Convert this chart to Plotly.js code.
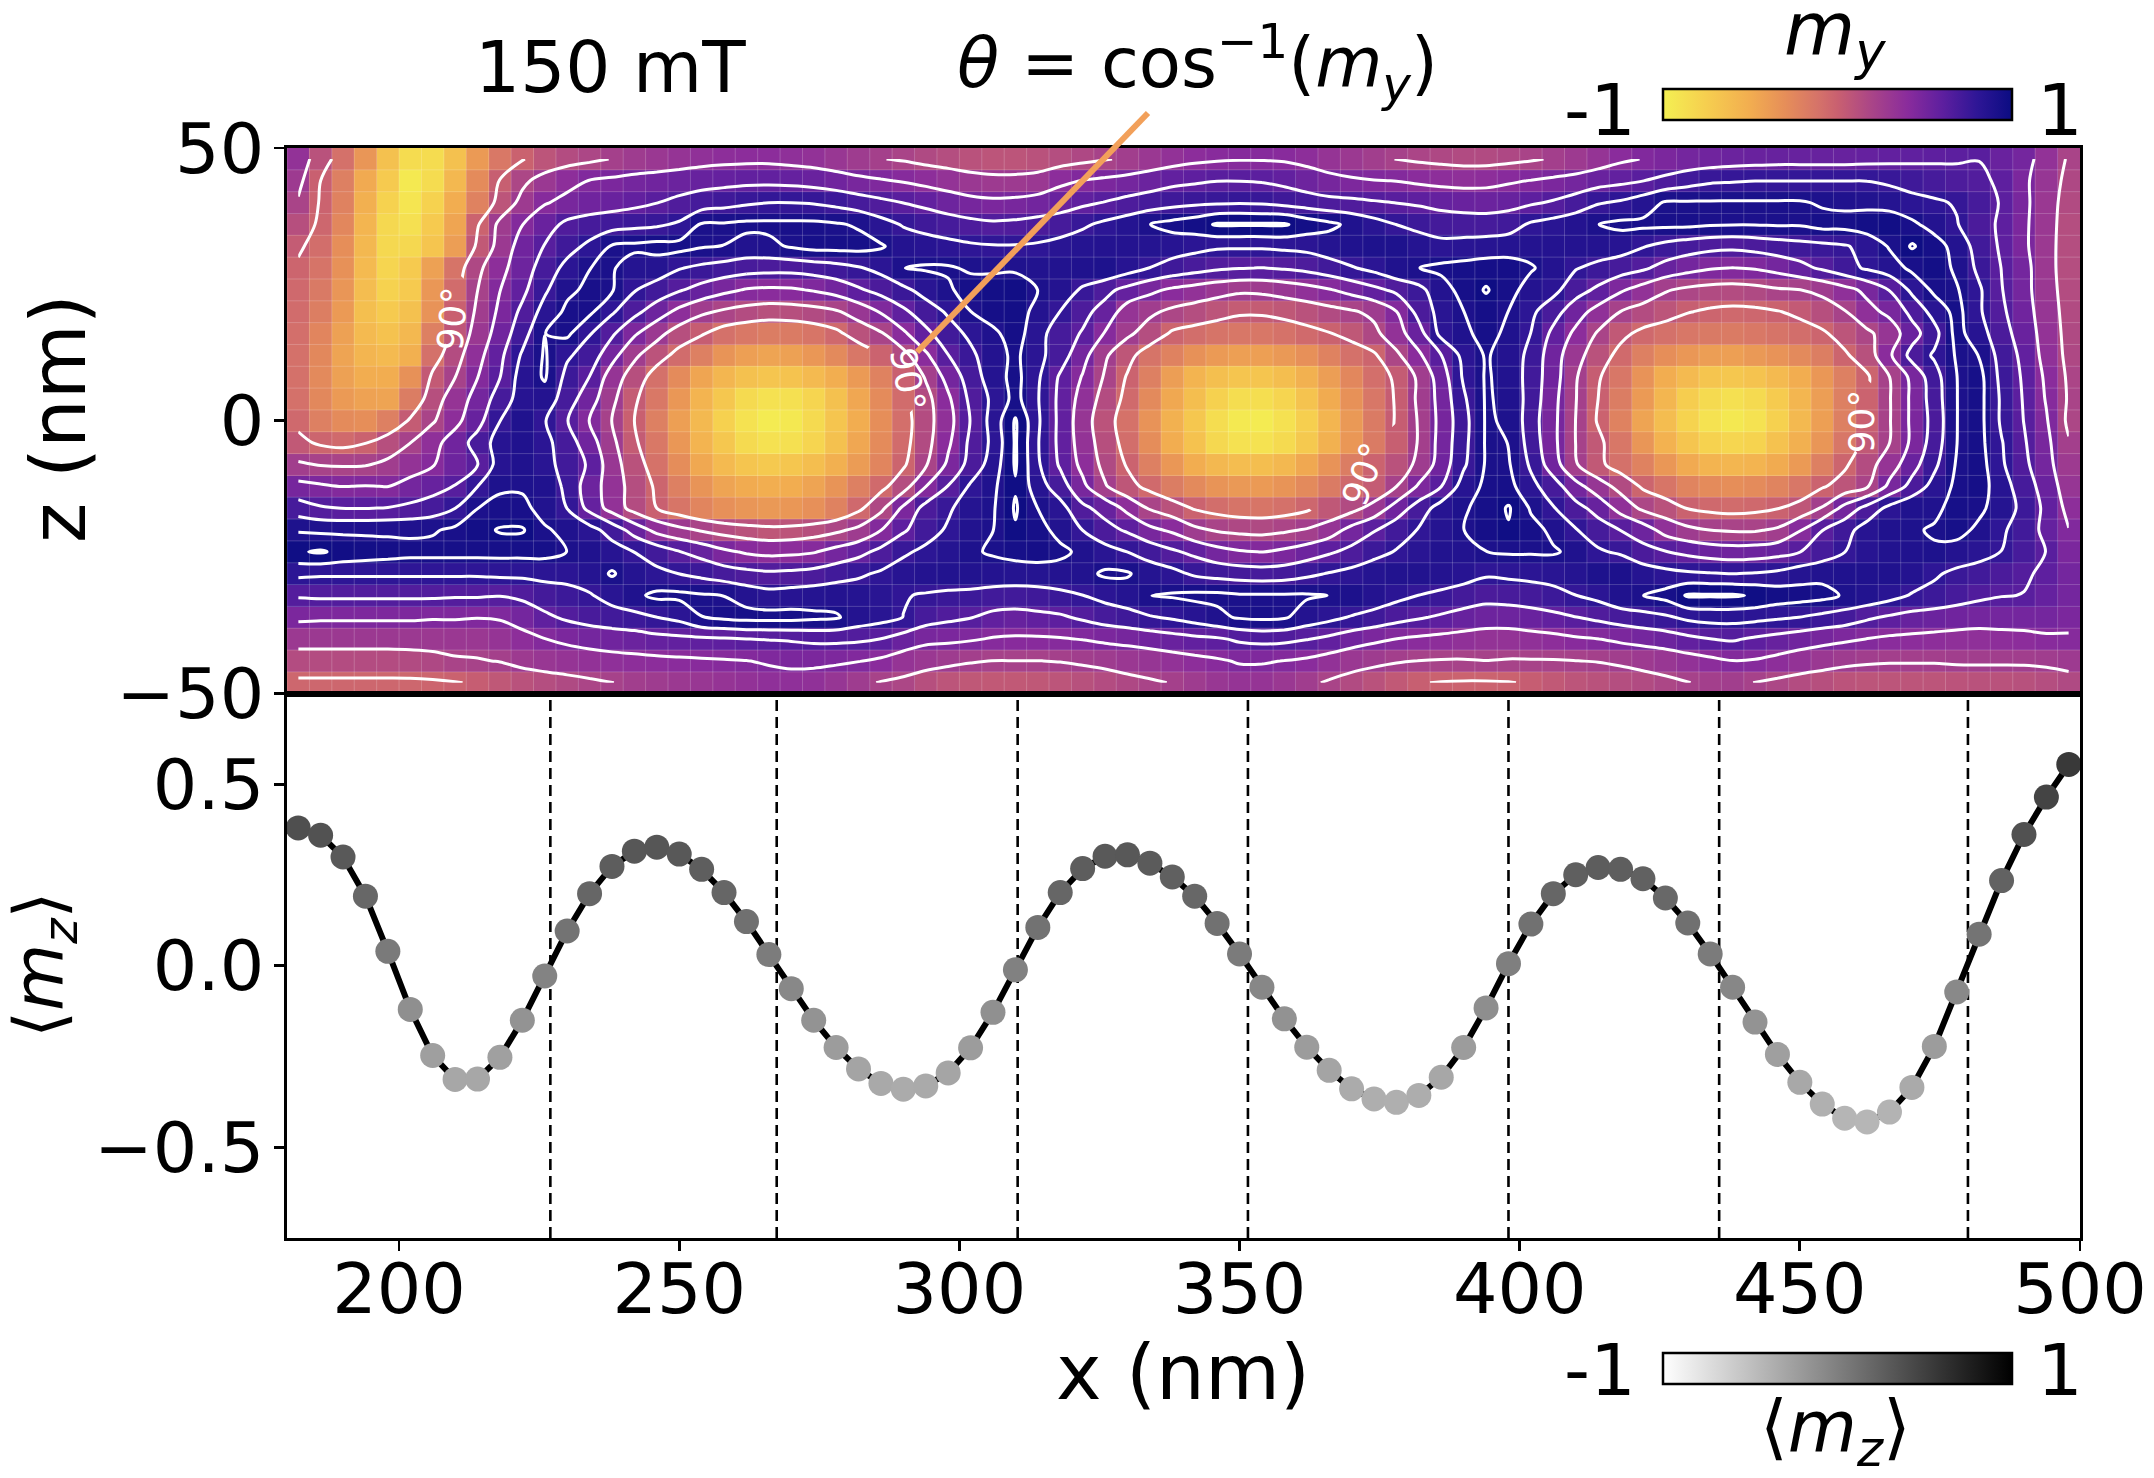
<!DOCTYPE html>
<html><head><meta charset="utf-8">
<script src="https://cdn.plot.ly/plotly-3.0.1.min.js"></script>
<style>html,body{margin:0;padding:0;background:#fff}</style></head>
<body><div id="chart" style="width:2154px;height:1478px"></div>
<script>
const xCells=[182,186,190,194,198,202,206,210,214,218,222,226,230,234,238,242,246,250,254,258,262,266,270,274,278,282,286,290,294,298,302,306,310,314,318,322,326,330,334,338,342,346,350,354,358,362,366,370,374,378,382,386,390,394,398,402,406,410,414,418,422,426,430,434,438,442,446,450,454,458,462,466,470,474,478,482,486,490,494,498];
const zCells=[48,44,40,36,32,28,24,20,16,12,8,4,0,-4,-8,-12,-16,-20,-24,-28,-32,-36,-40,-44,-48];
// m_y x 100 for each row of cells
const rowP48=[35,10,-10,-35,-65,-85,-85,-65,-38,-15,-1,8,14,18,23,27,30,33,36,38,39,39,37,35,31,27,23,20,16,13,10,8,8,10,13,17,21,25,30,35,39,41,42,42,41,38,33,29,25,22,19,17,15,15,17,20,24,28,33,40,44,47,50,52,54,55,56,56,56,56,57,58,59,60,61,62,55,50,35,20];
const rowP44=[28,0,-20,-48,-72,-95,-85,-58,-28,1,18,30,38,44,47,50,52,54,56,57,58,58,57,55,52,48,45,42,38,34,30,28,28,30,39,44,47,50,54,58,60,62,62,61,58,53,49,46,44,43,40,38,37,38,41,44,47,50,55,58,62,67,72,76,77,78,78,78,78,78,78,76,73,70,67,65,60,47,32,17];
const rowP40=[20,-2,-22,-52,-78,-92,-78,-50,-22,8,28,42,48,52,55,58,62,66,70,73,76,78,78,77,74,70,66,62,58,53,49,47,48,51,55,59,63,67,70,73,75,76,77,76,73,70,67,66,64,62,60,57,55,54,56,60,64,70,77,80,85,91,91,91,91,91,91,91,89,88,87,85,82,80,77,70,61,48,30,15];
const rowP36=[12,-4,-25,-56,-82,-88,-72,-45,-2,27,43,55,66,70,72,74,76,80,91,91,92,92,92,92,91,89,83,77,73,70,67,65,66,68,70,76,81,85,90,93,95,98,98,98,98,95,92,88,83,78,74,71,70,70,72,80,83,86,90,92,92,92,92,91,90.5,90.5,91,91,93,93,95,96,92,86,79,68,60,47,30,13];
const rowP32=[3,-8,-30,-58,-82,-82,-68,-40,5,29,52,63,73,81,91,92,93,93,91,90,87,88,91,93,93,93,91,86,84,82,80,79,79,80,83,85,86,86,85,84,82,80,80,80,81,82,85,88,89,89,85,82,83,84,85,86,86,86,86,84,79,74,70,67,66,68,71,73,75,77,82,91,98,94,86,72,60,47,29,13];
const rowP28=[-3,-12,-32,-60,-80,-72,-42,-12,17,38,53,70,82,90,91,85,85,79,75,72,69,68,68,70,73,77,82,90,91,91,89,88,88,87,87,88,89,84,78,73,69,65,63,62,64,67,72,77,82,88,90,92,93,94,94,91,86,79,74,70,65,56,50,45,43,45,50,57,65,73,80,85,92,95,88,75,62,50,29,13];
const rowP24=[-5,-16,-35,-62,-78,-72,-36,-7,22,43,58,76,88,92,91,79,72,64,56,48,42,40,41,45,51,60,68,75,83,89,93,95,96,90,86,76,67,57,48,40,35,30,26,27,31,36,42,50,58,66,74,86,93,98,93,86,82,69,59,46,35,24,18,15,14,16,20,22,27,37,48,63,81,92,91,80,63,50,30,14];
const rowP20=[-7,-19,-38,-64,-72,-65,-33,0,26,47,66,83,92,92,80,67,53,38,26,19,14,11,12,15,20,31,45,59,71,80,90,94,95,86,78,67,56,33,26,18,13,8,3,3,6,10,15,20,27,43,68,83,90,94,90,81,69,52,36,22,14,8,1,-3,-5,-4,-1,4,12,21,37,48,67,83,93,80,65,52,32,15];
const rowP16=[-9,-24,-42,-60,-66,-58,-20,7,30,52,72,90,92,79,65,46,29,12,2,-10,-15,-18,-17,-13,-5,10,20,40,58,72,81,88,94,83,70,61,42,26,13,-3,-8,-12,-14,-14,-11,-6,-1,6,17,35,55,82,88,93,88,78,58,39,20,5,-5,-10,-14,-16,-17,-15,-12,-8,-3,8,18,32,55,73,93,84,68,55,34,16];
const rowP12=[-10,-26,-44,-56,-60,-52,-10,14,37,58,80,91,80,72,50,26,9,-7,-20,-34,-41,-44,-42,-36,-27,-14,-2,15,40,62,75,86,92,82,70,50,25,7,-12,-22,-32,-38,-41,-41,-37,-31,-22,-10,-3,18,40,62,82,91,86,74,52,30,10,-6,-20,-30,-36,-40,-41,-37,-33,-27,-19,-3,11,40,68,80,91,90,72,58,36,17];
const rowP8=[-10,-27,-42,-50,-50,-32,4,22,43,62,84,91,74,62,33,12,-10,-28,-45,-57,-65,-68,-67,-60,-51,-38,-22,0,24,50,70,85,93,80,60,42,20,-2,-20,-40,-55,-64,-68,-68,-63,-53,-40,-25,-9,3,26,53,80,91,87,72,52,24,2,-14,-33,-50,-60,-68,-70,-67,-60,-50,-36,-20,-3,22,48,72,90,93,74,60,40,19];
const rowP4=[-10,-26,-38,-43,-44,-18,12,33,50,70,84,86,70,52,27,3,-15,-36,-55,-70,-84,-89,-88,-80,-65,-46,-28,-7,15,40,66,81,93,79,58,36,14,-6,-27,-47,-63,-77,-86,-87,-80,-67,-49,-32,-14,2,26,50,76,91,88,72,49,23,0,-18,-38,-57,-74,-84,-88,-84,-73,-57,-40,-20,-2,21,47,70,90,93,76,61,42,20];
const rowP0=[-5,-20,-28,-30,-20,3,20,38,56,78,88,79,63,43,22,0,-20,-41,-59,-77,-90,-96,-94,-84,-68,-50,-30,-9,14,36,63,83,98,80,58,32,9,-11,-33,-53,-70,-86,-95,-96,-89,-76,-56,-37,-17,2,24,49,73,91,89,70,48,22,-2,-22,-44,-62,-79,-90,-94,-90,-77,-59,-41,-20,0,21,47,68,90,93,76,62,45,18];
const rowM4=[5,-3,-6,-1,12,22,37,52,69,84,88,82,70,52,27,3,-15,-36,-55,-70,-84,-89,-88,-80,-65,-46,-28,-7,15,40,66,81,98,79,58,34,12,-8,-29,-50,-66,-82,-89,-90,-84,-71,-53,-36,-17,1,24,50,74,91,90,72,48,22,5,-14,-35,-54,-68,-78,-81,-79,-66,-52,-35,-14,5,22,47,70,90,93,79,64,48,24];
const rowM8=[25,21,20,21,26,34,42,53,62,84,88,83,72,60,31,10,-11,-29,-47,-60,-68,-71,-69,-63,-52,-39,-24,-3,20,47,68,84,98,80,60,38,16,-2,-20,-36,-50,-58,-62,-63,-58,-47,-33,-18,-2,10,27,52,76,91,91,76,52,24,5,-10,-22,-36,-48,-55,-57,-55,-49,-38,-20,-3,14,33,55,75,91,94,80,66,50,28];
const rowM12=[49,46,43,44,43,50,56,63,78,89,89,88,74,53,34,13,-3,-20,-34,-44,-49,-51,-50,-44,-34,-20,-6,13,43,63,80,88,97,84,70,48,24,7,-6,-18,-27,-34,-37,-38,-34,-27,-17,-5,3,22,46,62,84,92,93,82,70,50,32,15,-3,-13,-23,-28,-30,-28,-23,-14,-2,8,20,48,68,83,92,94,84,70,55,32];
const rowM16=[70,64,62,62,63,66,70,78,90,92,92,87,78,57,35,14,0,-13,-24,-31,-35,-37,-36,-31,-22,-5,17,47,68,76,85,89,98,90,83,66,56,38,20,10,-2,-8,-12,-13,-10,-4,6,15,30,52,70,84,89,93,98,89,79,68,56,36,18,10,-1,-5,-7,-5,-1,7,24,50,68,82,88,88,93,92,85,74,58,38];
const rowM20=[89,88,88,88,88,88,89,92,95,98,98,91,88,83,72,55,37,28,20,14,10,7,8,12,18,27,43,60,72,80,87,90,97,93,87,78,68,60,48,40,27,20,17,16,19,24,33,50,61,72,79,85,90,94,97,93,88,79,70,62,53,36,27,22,20,20,25,42,62,73,84,88,89,91,93,88,80,72,57,44];
const rowM24=[97,98,96,95,94,93,93,93,93,93,93,93,90,88,84,78,72,63,56,47,41,38,39,42,50,57,67,76,81,85,89,91,93,94,92,88,83,78,72,65,58,50,45,43,47,53,60,67,74,79,83,87,87,90,91,91,91,88,80,76,68,63,58,54,52,53,56,62,70,78,84,87,88,89,86,83,78,70,62,47];
const rowM28=[81,80,80,80,80,80,80,80,80,81,81,82,82,85,91,85,81,78,74,70,67,65,66,68,72,76,80,84,86,87,87,86,85,85,86,87,91.5,91,85,82,76,73,71,70,71,75,79,82,85,87,87,86,84,80,81,82,83,85,89,90,85,82,80,79,78,79,81,85,87,88,88,88,86,80,75,72,68,64,60,50];
const rowM32=[64,65,65,65,65,65,65,64,64,63,66,71,74,77,83,88,92,92,91,90,86,83,84,85,86,85,83,79,77,75,74,72,72,73,75,78,82,85,90,91,92,92,91,91,91,91,90,90,86,82,78,75,71,68,69,71,74,78,82,88,90,93,98,98,98,97,95,94,93,89,87,83,77,74,70,66,63,62,57,50];
const rowM36=[47,46,46,46,46,46,45,45,44,45,50,59,65,69,72,74,78,82,90,92,93,93,93,92,91,86,83,78,70,66,63,58,56,58,60,65,70,73,77,80,84,88,91,92,91,86,82,77,73,68,64,60,56,53,53,55,58,62,66,70,73,76,81,83,83,82,80,78,74,71,65,60,56,54,52,50,50,50,50,47];
const rowM40=[29,29,29,29,29,29,29,30,30,33,38,43,47,50,52,54,57,58,59,60,62,63,64,66,66,65,62,55,48,47,45,42,41,41,42,44,47,49,52,55,58,60,65,67,66,63,58,52,47,43,40,38,36,34,34,36,38,41,43,47,50,53,58,62,64,60,56,52,49,46,43,40,39,38,37,37,38,39,41,42];
const rowM44=[14,14,14,14,14,15,17,20,21,23,28,31,33,35,37,38,39,40,41,42,43,45,47,47,46,44,40,33,30,27,24,22,22,22,23,25,27,30,32,35,38,41,45,45,43,40,35,30,27,24,22,21,21,22,21,21,21,22,23,25,28,31,35,39,43,42,38,34,30,27,25,24,24,24,25,25,25,25,26,28];
const rowM48=[-4,-4,-4,-4,-4,-4,-3,-1,2,6,10,13,16,19,22,25,27,29,31,33,35,37,37,36,32,27,21,18,12,8,6,5,5,6,8,11,14,17,20,23,27,31,33,33,30,26,20,15,10,5,1,-1,-2,-2,-1,2,5,8,10,13,15,18,22,24,25,22,18,14,12,9,8,8,8,8,9,10,10,11,13,16];
const rows=[rowP48,rowP44,rowP40,rowP36,rowP32,rowP28,rowP24,rowP20,rowP16,rowP12,rowP8,rowP4,rowP0,rowM4,rowM8,rowM12,rowM16,rowM20,rowM24,rowM28,rowM32,rowM36,rowM40,rowM44,rowM48];
// average m_z along x, one value per column of cells
const mzProfile=[.380,.360,.300,.192,.040,-.120,-.247,-.313,-.312,-.252,-.150,-.028,.096,.199,.274,.316,.327,.308,.266,.202,.122,.031,-.063,-.150,-.225,-.284,-.324,-.340,-.331,-.295,-.226,-.128,-.011,.106,.202,.268,.302,.306,.283,.245,.192,.117,.033,-.059,-.146,-.224,-.288,-.339,-.367,-.376,-.357,-.307,-.225,-.116,.006,.115,.199,.251,.271,.266,.240,.187,.118,.033,-.059,-.155,-.244,-.321,-.381,-.420,-.430,-.403,-.335,-.222,-.072,.087,.235,.362,.465,.555];
const boundaryX=[227,267.4,310.4,351.5,398,435.6,480];
const zTicks=[-50,0,50], mzTicks=[-0.5,0,0.5], xTicks=[200,250,300,350,400,450,500];
// contour levels, degrees
const thetaStep=12.857, thetaLabelled=90;
const labelPos=[{x:209.6,z:18.7,a:-85},{x:290.7,z:7.5,a:80},{x:372.3,z:-9.7,a:-70},{x:461,z:0,a:-90}];
const labelGaps=[[210,24],[210,20],[210,16],[286,12],[290,8],[290,4],[378,-4],[378,-8],[374,-8],[374,-12],[370,-12],[370,-16],[366,-16],[462,4],[462,0],[462,-4]];

const W=2154,H=1478;
const L=287,R=2080,T=148,M=693.7,B=1238;
const fx=v=>v/W, fy=v=>1-v/H;
const FONT='DejaVu Sans';
const plasmaR=[[0,'#f4f052'],[.125,'#f6ce4f'],[.25,'#f2ad50'],[.35,'#e68e59'],[.45,'#d4716a'],[.5,'#c96070'],[.6,'#a94488'],[.7,'#8a2c9c'],[.8,'#5e1f9f'],[.9,'#2e1696'],[1,'#0b0c82']];
const myGrid=rows.map(r=>r.map(v=>v/100));
const toTheta=v=>Math.acos(Math.max(-1,Math.min(1,v)))*180/Math.PI;
const thetaGrid=myGrid.map(r=>r.map(toTheta));
const gapKey=new Set(labelGaps.map(g=>g.join('|')));
const thetaMasked=thetaGrid.map((r,j)=>r.map((v,i)=>gapKey.has(xCells[i]+'|'+zCells[j])?null:v));

// faint seams between cells
const seamX=[],seamY=[];
xCells.forEach(x=>{seamX.push(x-2,x-2,null);seamY.push(-50,50,null);});
zCells.forEach(z=>{seamX.push(180,500,null);seamY.push(z-2,z-2,null);});

const traces=[
{type:'heatmap',x:xCells,y:zCells,z:myGrid,zmin:-1,zmax:1,colorscale:plasmaR,xaxis:'x',yaxis:'y',hoverinfo:'skip',
 colorbar:{orientation:'h',x:fx(1663),xanchor:'left',y:fy(89),yanchor:'top',lenmode:'pixels',len:349,thickness:31,thicknessmode:'pixels',outlinewidth:2.5,outlinecolor:'#000',showticklabels:false,ticks:'',xpad:0,ypad:0}},
{type:'scatter',mode:'lines',x:seamX,y:seamY,xaxis:'x',yaxis:'y',line:{color:'rgba(255,255,255,0.2)',width:1},hoverinfo:'skip',showlegend:false},
{type:'contour',x:xCells,y:zCells,z:thetaGrid,xaxis:'x',yaxis:'y',showscale:false,hoverinfo:'skip',autocontour:false,
 contours:{coloring:'none',start:thetaStep,end:thetaStep*6,size:thetaStep},line:{color:'#fff',width:3,smoothing:1}},
{type:'contour',x:xCells,y:zCells,z:thetaMasked,xaxis:'x',yaxis:'y',showscale:false,hoverinfo:'skip',autocontour:false,connectgaps:false,
 contours:{coloring:'none',start:thetaLabelled,end:thetaLabelled,size:1},line:{color:'#fff',width:3,smoothing:1}},
{type:'scatter',mode:'lines+markers',x:xCells,y:mzProfile,xaxis:'x2',yaxis:'y2',line:{color:'#000',width:6},hoverinfo:'skip',showlegend:false,
 marker:{size:25,color:mzProfile,cmin:-1,cmax:1,colorscale:[[0,'#ffffff'],[1,'#000000']],line:{width:0},showscale:true,
  colorbar:{orientation:'h',x:fx(1663),xanchor:'left',y:fy(1353),yanchor:'top',lenmode:'pixels',len:349,thickness:31,thicknessmode:'pixels',outlinewidth:2.5,outlinecolor:'#000',showticklabels:false,ticks:'',xpad:0,ypad:0}}}
];

const axisBase={showline:true,linecolor:'#000',linewidth:2.8,mirror:true,showgrid:false,zeroline:false,ticks:'outside',ticklen:10,tickwidth:2.8,tickcolor:'#000',tickfont:{family:FONT,size:70,color:'#000'}};
const annText=(text,px,py,size,extra)=>Object.assign({xref:'paper',yref:'paper',x:fx(px),y:fy(py),text,showarrow:false,xanchor:'center',yanchor:'middle',font:{family:FONT,size,color:'#000'}},extra||{});
const annotations=[
 annText('150 mT',611,68,71),
 annText('<i>θ</i> = cos<sup>−1</sup>(<i>m<sub>y</sub></i>)',1197,62,69),
 annText('<i>m<sub>y</sub></i>',1835,34,73),
 annText('-1',1600,110,72),annText('1',2060,110,72),
 annText('-1',1600,1370,72),annText('1',2060,1370,72),
 annText('⟨<i>m<sub>z</sub></i>⟩',1835,1431,71),
 annText('x (nm)',1183,1372,77),
 annText('z (nm)',58,419,77,{textangle:-90}),
 annText('⟨<i>m<sub>z</sub></i>⟩',43,965,69,{textangle:-90})
];
labelPos.forEach(p=>annotations.push({xref:'x',yref:'y',x:p.x,y:p.z,text:'90°',showarrow:false,textangle:p.a,font:{family:FONT,size:36,color:'#fff'}}));

const shapes=boundaryX.map(x=>({type:'line',xref:'x2',yref:'y2',x0:x,x1:x,y0:-0.75,y1:0.75,layer:'below',line:{color:'#000',width:2.6,dash:'11px,6px'}}));
shapes.push({type:'line',xref:'paper',yref:'paper',x0:fx(917),y0:fy(352),x1:fx(1148),y1:fy(113),layer:'above',line:{color:'#f2a05a',width:6}});

const layout={width:W,height:H,paper_bgcolor:'#fff',plot_bgcolor:'#fff',showlegend:false,
 margin:{l:0,r:0,t:0,b:0,autoexpand:false},font:{family:FONT,color:'#000'},
 xaxis:Object.assign({},axisBase,{domain:[fx(L),fx(R)],range:[180,500],anchor:'y',ticks:'',showticklabels:false}),
 yaxis:Object.assign({},axisBase,{domain:[fy(M),fy(T)],range:[-50,50],anchor:'x',tickvals:zTicks,ticklabelstandoff:-4}),
 xaxis2:Object.assign({},axisBase,{domain:[fx(L),fx(R)],range:[180,500],anchor:'y2',tickvals:xTicks,ticklabelstandoff:-22}),
 yaxis2:Object.assign({},axisBase,{domain:[fy(B),fy(M)],range:[-0.75,0.75],anchor:'x2',tickvals:mzTicks,tickformat:'.1f',ticklabelstandoff:-4}),
 annotations,shapes};
Plotly.newPlot('chart',traces,layout,{displayModeBar:false,staticPlot:true});
</script></body></html>
